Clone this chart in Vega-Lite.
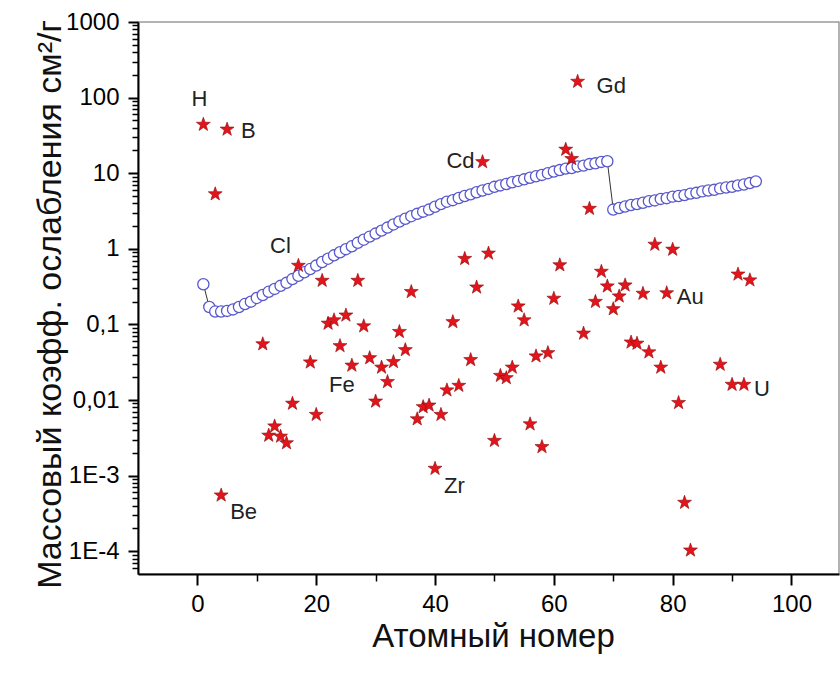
{
  "$schema": "https://vega.github.io/schema/vega-lite/v6.json",
  "width": 701,
  "height": 552,
  "autosize": {"type": "none"},
  "padding": {"left": 138, "top": 22, "right": 1, "bottom": 99},
  "background": "white",
  "config": {"view": {"stroke": "#9a9a9a", "strokeWidth": 1.5}, "font": "Liberation Sans"},
  "datasets": {
    "atten": [
      {"z":1,"mu":0.34},{"z":2,"mu":0.17},{"z":3,"mu":0.148},{"z":4,"mu":0.148},{"z":5,"mu":0.151},
      {"z":6,"mu":0.158},{"z":7,"mu":0.17},{"z":8,"mu":0.186},{"z":9,"mu":0.2},{"z":10,"mu":0.224},
      {"z":11,"mu":0.245},{"z":12,"mu":0.27},{"z":13,"mu":0.295},{"z":14,"mu":0.324},{"z":15,"mu":0.355},
      {"z":16,"mu":0.398},{"z":17,"mu":0.44},{"z":18,"mu":0.49},{"z":19,"mu":0.54},{"z":20,"mu":0.6},
      {"z":21,"mu":0.67},{"z":22,"mu":0.74},{"z":23,"mu":0.82},{"z":24,"mu":0.9},{"z":25,"mu":0.99},
      {"z":26,"mu":1.08},{"z":27,"mu":1.2},{"z":28,"mu":1.32},{"z":29,"mu":1.45},{"z":30,"mu":1.59},
      {"z":31,"mu":1.74},{"z":32,"mu":1.91},{"z":33,"mu":2.1},{"z":34,"mu":2.3},{"z":35,"mu":2.5},
      {"z":36,"mu":2.7},{"z":37,"mu":2.9},{"z":38,"mu":3.1},{"z":39,"mu":3.3},{"z":40,"mu":3.6},
      {"z":41,"mu":3.9},{"z":42,"mu":4.2},{"z":43,"mu":4.4},{"z":44,"mu":4.7},{"z":45,"mu":5.0},
      {"z":46,"mu":5.25},{"z":47,"mu":5.6},{"z":48,"mu":5.9},{"z":49,"mu":6.2},{"z":50,"mu":6.6},
      {"z":51,"mu":6.9},{"z":52,"mu":7.2},{"z":53,"mu":7.6},{"z":54,"mu":7.9},{"z":55,"mu":8.3},
      {"z":56,"mu":8.7},{"z":57,"mu":9.1},{"z":58,"mu":9.5},{"z":59,"mu":10.0},{"z":60,"mu":10.5},
      {"z":61,"mu":11.0},{"z":62,"mu":11.5},{"z":63,"mu":11.7},{"z":64,"mu":12.3},{"z":65,"mu":12.6},
      {"z":66,"mu":13.2},{"z":67,"mu":13.5},{"z":68,"mu":14.1},{"z":69,"mu":14.4},{"z":70,"mu":3.3},
      {"z":71,"mu":3.47},{"z":72,"mu":3.63},{"z":73,"mu":3.8},{"z":74,"mu":3.9},{"z":75,"mu":4.07},
      {"z":76,"mu":4.27},{"z":77,"mu":4.37},{"z":78,"mu":4.57},{"z":79,"mu":4.68},{"z":80,"mu":4.9},
      {"z":81,"mu":5.0},{"z":82,"mu":5.13},{"z":83,"mu":5.37},{"z":84,"mu":5.5},{"z":85,"mu":5.75},
      {"z":86,"mu":5.9},{"z":87,"mu":6.03},{"z":88,"mu":6.3},{"z":89,"mu":6.46},{"z":90,"mu":6.6},
      {"z":91,"mu":6.9},{"z":92,"mu":7.08},{"z":93,"mu":7.4},{"z":94,"mu":7.8}
    ],
    "neutron": [
      {"z":1,"mu":44,"label":"H"},{"z":3,"mu":5.3,"label":""},{"z":4,"mu":0.00055,"label":"Be"},{"z":5,"mu":38,"label":"B"},
      {"z":11,"mu":0.055,"label":""},{"z":12,"mu":0.0034,"label":""},{"z":13,"mu":0.0045,"label":""},{"z":14,"mu":0.0033,"label":""},
      {"z":15,"mu":0.0027,"label":""},{"z":16,"mu":0.009,"label":""},{"z":17,"mu":0.6,"label":"Cl"},{"z":19,"mu":0.0316,"label":""},
      {"z":20,"mu":0.0064,"label":""},{"z":21,"mu":0.38,"label":""},{"z":22,"mu":0.103,"label":""},{"z":23,"mu":0.114,"label":""},
      {"z":24,"mu":0.052,"label":""},{"z":25,"mu":0.132,"label":""},{"z":26,"mu":0.0287,"label":"Fe"},{"z":27,"mu":0.38,"label":""},
      {"z":28,"mu":0.095,"label":""},{"z":29,"mu":0.036,"label":""},{"z":30,"mu":0.0096,"label":""},{"z":31,"mu":0.027,"label":""},
      {"z":32,"mu":0.0174,"label":""},{"z":33,"mu":0.032,"label":""},{"z":34,"mu":0.08,"label":""},{"z":35,"mu":0.046,"label":""},
      {"z":36,"mu":0.27,"label":""},{"z":37,"mu":0.0056,"label":""},{"z":38,"mu":0.0081,"label":""},{"z":39,"mu":0.0085,"label":""},
      {"z":40,"mu":0.00124,"label":"Zr"},{"z":41,"mu":0.0064,"label":""},{"z":42,"mu":0.0135,"label":""},{"z":43,"mu":0.108,"label":""},
      {"z":44,"mu":0.0155,"label":""},{"z":45,"mu":0.74,"label":""},{"z":46,"mu":0.034,"label":""},{"z":47,"mu":0.31,"label":""},
      {"z":48,"mu":14.1,"label":"Cd"},{"z":49,"mu":0.87,"label":""},{"z":50,"mu":0.0029,"label":""},{"z":51,"mu":0.021,"label":""},
      {"z":52,"mu":0.0196,"label":""},{"z":53,"mu":0.027,"label":""},{"z":54,"mu":0.174,"label":""},{"z":55,"mu":0.114,"label":""},
      {"z":56,"mu":0.0048,"label":""},{"z":57,"mu":0.038,"label":""},{"z":58,"mu":0.0024,"label":""},{"z":59,"mu":0.042,"label":""},
      {"z":60,"mu":0.22,"label":""},{"z":61,"mu":0.61,"label":""},{"z":62,"mu":20.6,"label":""},{"z":63,"mu":15.5,"label":""},
      {"z":64,"mu":163,"label":"Gd"},{"z":65,"mu":0.076,"label":""},{"z":66,"mu":3.4,"label":""},{"z":67,"mu":0.2,"label":""},
      {"z":68,"mu":0.5,"label":""},{"z":69,"mu":0.32,"label":""},{"z":70,"mu":0.16,"label":""},{"z":71,"mu":0.236,"label":""},
      {"z":72,"mu":0.33,"label":""},{"z":73,"mu":0.058,"label":""},{"z":74,"mu":0.056,"label":""},{"z":75,"mu":0.256,"label":""},
      {"z":76,"mu":0.043,"label":""},{"z":77,"mu":1.14,"label":""},{"z":78,"mu":0.027,"label":""},{"z":79,"mu":0.26,"label":"Au"},
      {"z":80,"mu":0.98,"label":""},{"z":81,"mu":0.0092,"label":""},{"z":82,"mu":0.00044,"label":""},{"z":83,"mu":0.000103,"label":""},
      {"z":88,"mu":0.0295,"label":""},{"z":90,"mu":0.016,"label":""},{"z":91,"mu":0.46,"label":""},{"z":92,"mu":0.016,"label":"U"},
      {"z":93,"mu":0.385,"label":""}
    ]
  },
  "encoding": {
    "x": {"field": "z", "type": "quantitative", "title": "Атомный номер",
      "scale": {"domain": [-10, 108], "nice": false, "zero": false},
      "axis": {"orient": "bottom", "values": [0, 10, 20, 30, 40, 50, 60, 70, 80, 90, 100], "grid": false,
        "domainColor": "black", "domainWidth": 2, "tickColor": "black",
        "tickWidth": {"condition": {"test": "datum.value % 20 == 0", "value": 2}, "value": 1.5},
        "tickSize": {"condition": {"test": "datum.value % 20 == 0", "value": 11}, "value": 7},
        "labelExpr": "datum.value % 20 == 0 ? datum.label : ''",
        "labelOverlap": false, "labelFontSize": 24, "labelColor": "black", "labelPadding": 7, "labelFont": "Liberation Sans",
        "titleFontSize": 33, "titleFontWeight": "normal", "titleColor": "#111111", "titleFont": "Liberation Sans",
        "titleX": 355, "titleY": 72, "titleBaseline": "alphabetic", "titleAlign": "center"}},
    "y": {"field": "mu", "type": "quantitative", "title": "Массовый коэфф. ослабления см²/г",
      "scale": {"type": "log", "domain": [0.00005, 1000], "nice": false},
      "axis": {"orient": "left",
        "values": [0.00006,0.00007,0.00008,0.00009,0.0001,0.0002,0.0003,0.0004,0.0005,0.0006,0.0007,0.0008,0.0009,0.001,0.002,0.003,0.004,0.005,0.006,0.007,0.008,0.009,0.01,0.02,0.03,0.04,0.05,0.06,0.07,0.08,0.09,0.1,0.2,0.3,0.4,0.5,0.6,0.7,0.8,0.9,1,2,3,4,5,6,7,8,9,10,20,30,40,50,60,70,80,90,100,200,300,400,500,600,700,800,900,1000],
        "grid": false, "domainColor": "black", "domainWidth": 2, "tickColor": "black",
        "tickWidth": {"condition": {"test": "abs(log(datum.value)/LN10 - round(log(datum.value)/LN10)) < 0.01", "value": 2}, "value": 1.5},
        "tickSize": {"condition": {"test": "abs(log(datum.value)/LN10 - round(log(datum.value)/LN10)) < 0.01", "value": 10}, "value": 6},
        "labelOverlap": false, "labelFontSize": 24, "labelColor": "black", "labelPadding": 9, "labelFont": "Liberation Sans",
        "labelExpr": "abs(log(datum.value)/LN10 - round(log(datum.value)/LN10)) >= 0.01 ? '' : datum.value > 0.5 ? format(datum.value, 'd') : datum.value > 0.05 ? '0,1' : datum.value > 0.005 ? '0,01' : datum.value > 0.0005 ? '1E-3' : '1E-4'",
        "titleFontSize": 34, "titleFontWeight": "normal", "titleColor": "#111111", "titleFont": "Liberation Sans",
        "titleAngle": -90, "titleX": -78, "titleY": 282, "titleBaseline": "alphabetic", "titleAlign": "center"}}
  },
  "layer": [
    {
      "data": {"name": "atten"},
      "mark": {"type": "line", "color": "#333333", "strokeWidth": 1}
    },
    {
      "data": {"name": "atten"},
      "mark": {"type": "point", "shape": "circle", "filled": true, "fill": "white", "stroke": "#5858cc", "strokeWidth": 1.3, "size": 125, "opacity": 1}
    },
    {
      "data": {"name": "neutron"},
      "mark": {"type": "point", "shape": "M0,-1L0.235,-0.324L0.951,-0.309L0.38,0.124L0.588,0.809L0,0.4L-0.588,0.809L-0.38,0.124L-0.951,-0.309L-0.235,-0.324Z", "filled": true, "fill": "#e3141c", "stroke": "#8a0a0a", "strokeWidth": 0.6, "size": 215, "opacity": 1}
    },
    {
      "data": {"name": "neutron"},
      "transform": [{"filter": "datum.label == 'H'"}],
      "mark": {"type": "text", "align": "center", "baseline": "middle", "dx": -4, "dy": -26, "fontSize": 22, "color": "#222222", "font": "Liberation Sans"},
      "encoding": {"text": {"field": "label"}}
    },
    {
      "data": {"name": "neutron"},
      "transform": [{"filter": "datum.label == 'B'"}],
      "mark": {"type": "text", "align": "left", "baseline": "middle", "dx": 14, "dy": 2, "fontSize": 22, "color": "#222222", "font": "Liberation Sans"},
      "encoding": {"text": {"field": "label"}}
    },
    {
      "data": {"name": "neutron"},
      "transform": [{"filter": "datum.label == 'Be' || datum.label == 'Zr'"}],
      "mark": {"type": "text", "align": "left", "baseline": "middle", "dx": 9, "dy": 17, "fontSize": 22, "color": "#222222", "font": "Liberation Sans"},
      "encoding": {"text": {"field": "label"}}
    },
    {
      "data": {"name": "neutron"},
      "transform": [{"filter": "datum.label == 'Cl'"}],
      "mark": {"type": "text", "align": "center", "baseline": "middle", "dx": -18, "dy": -20, "fontSize": 22, "color": "#222222", "font": "Liberation Sans"},
      "encoding": {"text": {"field": "label"}}
    },
    {
      "data": {"name": "neutron"},
      "transform": [{"filter": "datum.label == 'Fe'"}],
      "mark": {"type": "text", "align": "center", "baseline": "middle", "dx": -10, "dy": 20, "fontSize": 22, "color": "#222222", "font": "Liberation Sans"},
      "encoding": {"text": {"field": "label"}}
    },
    {
      "data": {"name": "neutron"},
      "transform": [{"filter": "datum.label == 'Cd'"}],
      "mark": {"type": "text", "align": "right", "baseline": "middle", "dx": -8, "dy": -1, "fontSize": 22, "color": "#222222", "font": "Liberation Sans"},
      "encoding": {"text": {"field": "label"}}
    },
    {
      "data": {"name": "neutron"},
      "transform": [{"filter": "datum.label == 'Gd'"}],
      "mark": {"type": "text", "align": "left", "baseline": "middle", "dx": 19, "dy": 4, "fontSize": 22, "color": "#222222", "font": "Liberation Sans"},
      "encoding": {"text": {"field": "label"}}
    },
    {
      "data": {"name": "neutron"},
      "transform": [{"filter": "datum.label == 'Au' || datum.label == 'U'"}],
      "mark": {"type": "text", "align": "left", "baseline": "middle", "dx": 10, "dy": 4, "fontSize": 22, "color": "#222222", "font": "Liberation Sans"},
      "encoding": {"text": {"field": "label"}}
    }
  ]
}
